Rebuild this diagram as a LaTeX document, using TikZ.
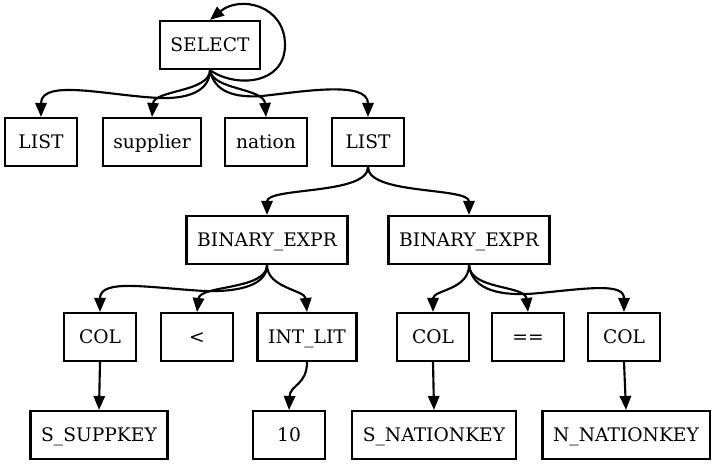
\documentclass[tikz,border=0pt]{standalone}
\usepackage{fontspec}
\setmainfont{DejaVu Serif}
\usetikzlibrary{arrows.meta}
\begin{document}
\begin{tikzpicture}[x=.75pt,y=-.75pt,
  box/.style={draw,line width=1.6pt,minimum height=36pt,minimum width=54pt,inner xsep=8pt,text height=11pt,text depth=2pt,font=\fontsize{14}{16}\selectfont},
  edge/.style={line width=1.6pt,-{Triangle[length=10.5pt,width=8.5pt]}}]
  \useasboundingbox (0,0) rectangle (712,465);
  \node[box] (sel) at (210,45) {SELECT};
  \node[box] (lista) at (41,142) {LIST};
  \node[box] (supp) at (152,142) {supplier};
  \node[box] (nat) at (266,142) {nation};
  \node[box] (listb) at (368,142) {LIST};
  \node[box] (bina) at (267,240) {BINARY\_EXPR};
  \node[box] (binb) at (469,240) {BINARY\_EXPR};
  \node[box] (cola) at (100,337) {COL};
  \node[box] (lt) at (197,337) {<};
  \node[box] (ilit) at (307,337) {INT\_LIT};
  \node[box] (colb) at (433,337) {COL};
  \node[box] (eq) at (528,337) {==};
  \node[box] (colc) at (624,337) {COL};
  \node[box] (skey) at (99,435) {S\_SUPPKEY};
  \node[box] (ten) at (289,435) {10};
  \node[box] (snkey) at (434,435) {S\_NATIONKEY};
  \node[box] (nnkey) at (626,435) {N\_NATIONKEY};
  % SELECT
  \draw[edge] (sel.south) .. controls (235,88) and (285,85) .. (285,45) .. controls (285,5) and (240,-5) .. (sel.north);
  \draw[edge] (sel.south) .. controls (210,90) and (190,99) .. (160,98) .. controls (110,96) and (41,78) .. (lista.north);
  \draw[edge] (sel.south) .. controls (210,92) and (154,90) .. (supp.north);
  \draw[edge] (sel.south) .. controls (212,90) and (264,88) .. (nat.north);
  \draw[edge] (sel.south) .. controls (214,92) and (235,98) .. (262,96) .. controls (300,92) and (368,80) .. (listb.north);
  % LIST
  \draw[edge] (listb.south) .. controls (368,195) and (267,187) .. (bina.north);
  \draw[edge] (listb.south) .. controls (368,195) and (469,187) .. (binb.north);
  % BINARY_EXPR
  \draw[edge] (bina.south) .. controls (267,285) and (240,292) .. (205,291) .. controls (150,288) and (100,278) .. (cola.north);
  \draw[edge] (bina.south) .. controls (267,290) and (200,285) .. (lt.north);
  \draw[edge] (bina.south) .. controls (267,288) and (305,290) .. (ilit.north);
  \draw[edge] (binb.south) .. controls (469,290) and (433,290) .. (colb.north);
  \draw[edge] (binb.south) .. controls (470,290) and (525,285) .. (eq.north);
  \draw[edge] (binb.south) .. controls (472,290) and (500,297) .. (540,293) .. controls (590,288) and (624,283) .. (colc.north);
  % leaves
  \draw[edge] (cola.south) -- (skey.north);
  \draw[edge] (ilit.south) .. controls (307,385) and (290,385) .. (ten.north);
  \draw[edge] (colb.south) -- (snkey.north);
  \draw[edge] (colc.south) -- (nnkey.north);
\end{tikzpicture}
\end{document}
